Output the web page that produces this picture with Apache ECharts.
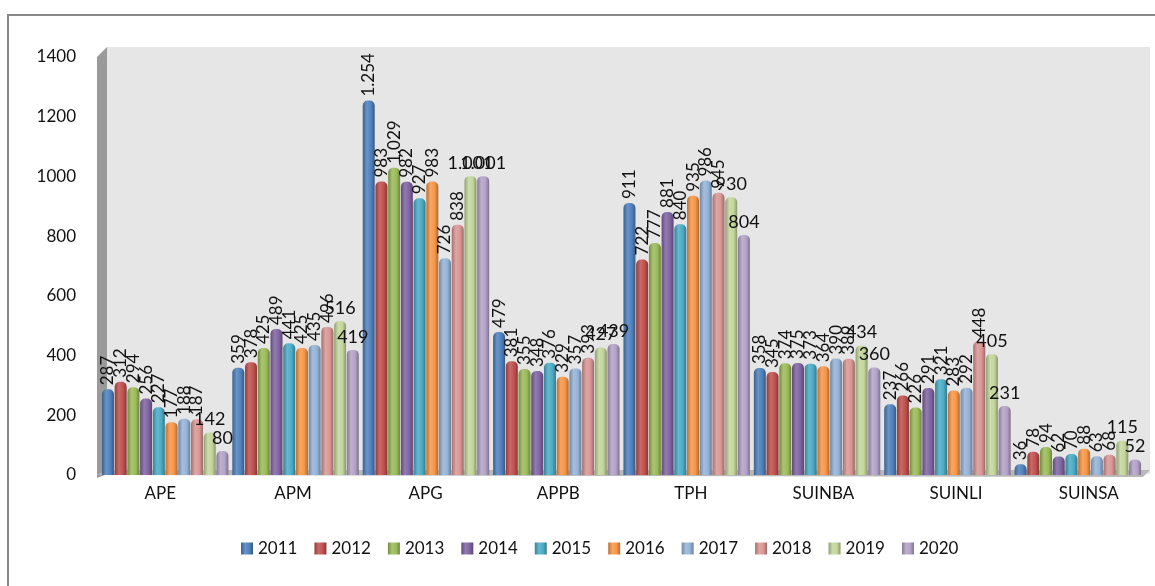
<!DOCTYPE html>
<html>
<head>
<meta charset="utf-8">
<script src="https://cdn.jsdelivr.net/npm/echarts@6/dist/echarts.min.js"></script>
<style>html,body{margin:0;padding:0;background:#fff}#c{width:1155px;height:586px}</style>
</head>
<body>
<div id="c"></div>
<script>
const categories = ['APE', 'APM', 'APG', 'APPB', 'TPH', 'SUINBA', 'SUINLI', 'SUINSA'];
const years = ['2011', '2012', '2013', '2014', '2015', '2016', '2017', '2018', '2019', '2020'];
const yTicks = [0, 200, 400, 600, 800, 1000, 1200, 1400];
const s2011 = [287, 359, 1254, 479, 911, 358, 237, 36];
const s2012 = [312, 378, 983, 381, 722, 345, 266, 78];
const s2013 = [294, 425, 1029, 355, 777, 374, 226, 94];
const s2014 = [256, 489, 982, 348, 881, 375, 291, 62];
const s2015 = [227, 441, 927, 376, 840, 373, 321, 70];
const s2016 = [177, 425, 983, 329, 935, 364, 283, 88];
const s2017 = [188, 435, 726, 357, 986, 390, 292, 63];
const s2018 = [187, 496, 838, 393, 945, 389, 448, 68];
const s2019 = [142, 516, 1001, 427, 930, 434, 405, 115];
const s2020 = [80, 419, 1001, 439, 804, 360, 231, 52];
const seriesValues = [s2011, s2012, s2013, s2014, s2015, s2016, s2017, s2018, s2019, s2020];
const colors = ['#4F81BD', '#C0504D', '#9BBB59', '#8064A2', '#4BACC6', '#F79646', '#95B3D7', '#D99694', '#C3D69B', '#B3A2C7'];

function shade(hex, f) {
  const n = parseInt(hex.slice(1), 16);
  let r = (n >> 16) & 255, g = (n >> 8) & 255, b = n & 255;
  if (f < 0) { r = r * (1 + f); g = g * (1 + f); b = b * (1 + f); }
  else { r = r + (255 - r) * f; g = g + (255 - g) * f; b = b + (255 - b) * f; }
  return 'rgb(' + Math.round(r) + ',' + Math.round(g) + ',' + Math.round(b) + ')';
}
function fmt(v) {
  return String(v).replace(/\B(?=(\d{3})+(?!\d))/g, '.');
}
const font = 'Lato, "Open Sans", sans-serif';
const txt = '#111';

const series = years.map((y, i) => {
  const c = colors[i];
  const horizontal = i >= 8;
  return {
    name: y,
    type: 'bar',
    xAxisIndex: 0,
    yAxisIndex: 0,
    data: seriesValues[i],
    barGap: '6%',
    barCategoryGap: '3%',
    itemStyle: {
      color: new echarts.graphic.LinearGradient(0, 0, 1, 0, [
        { offset: 0, color: shade(c, -0.25) },
        { offset: 0.35, color: shade(c, 0.15) },
        { offset: 0.7, color: c },
        { offset: 1, color: shade(c, -0.3) }
      ]),
      borderRadius: [5, 5, 0, 0]
    },
    label: horizontal ? {
      show: true, position: 'top', distance: 4, color: txt,
      fontFamily: font, fontSize: 18, formatter: p => fmt(p.value)
    } : {
      show: true, position: 'top', distance: 4, rotate: 90, align: 'left', verticalAlign: 'middle',
      color: txt, fontFamily: font, fontSize: 17, formatter: p => fmt(p.value)
    }
  };
});

const chart = echarts.init(document.getElementById('c'));
chart.setOption({
  animation: false,
  backgroundColor: '#fff',
  color: colors,
  graphic: [
    { type: 'rect', shape: { x: 8, y: 15, width: 1160, height: 600 }, style: { fill: 'none', stroke: '#888', lineWidth: 2 }, z: -10 },
    { type: 'rect', shape: { x: 107, y: 47, width: 1043, height: 427 }, style: { fill: '#e6e6e6' }, z: -5 },
    { type: 'polygon', shape: { points: [[97, 57], [107, 47], [107, 474], [97, 478]] }, style: { fill: '#9a9a9a' }, z: -5 },
    { type: 'polygon', shape: { points: [[97, 475], [107, 470], [1150, 470], [1143, 477]] }, style: { fill: '#b8b8b8' }, z: -4 }
  ],
  legend: {
    data: years,
    bottom: 24,
    left: 236,
    icon: 'rect',
    itemWidth: 12,
    itemHeight: 12,
    itemGap: 17,
    textStyle: { fontFamily: font, fontSize: 17, color: txt }
  },
  grid: [
    { left: 100, width: 1043, top: 57, bottom: 111 },
    { left: 94, width: 1093, top: 57, bottom: 111 }
  ],
  xAxis: [
    { type: 'category', gridIndex: 0, data: categories, axisLine: { show: false }, axisTick: { show: false }, axisLabel: { show: false } },
    { type: 'category', gridIndex: 1, data: categories, axisLine: { show: false }, axisTick: { show: false },
      axisLabel: { margin: 10, fontFamily: font, fontSize: 17, color: txt } }
  ],
  yAxis: [
    { type: 'value', gridIndex: 0, min: yTicks[0], max: yTicks[yTicks.length - 1], interval: 200,
      axisLine: { show: false }, axisTick: { show: false }, splitLine: { show: false },
      axisLabel: { margin: 24, fontFamily: font, fontSize: 17, color: txt, formatter: v => String(v) } },
    { type: 'value', gridIndex: 1, min: 0, max: 1400, show: false }
  ],
  series: series
});
</script>
</body>
</html>
